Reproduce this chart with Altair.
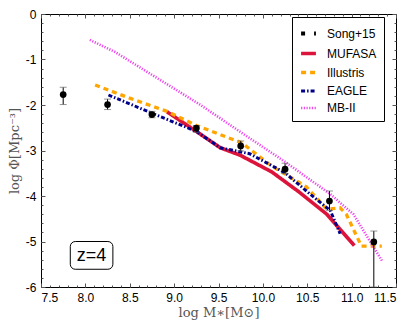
import altair as alt
import pandas as pd

# ---- data ----
song_x = [7.75, 8.25, 8.75, 9.25, 9.75, 10.25, 10.75, 11.25]
song_y = [-1.77, -1.99, -2.21, -2.51, -2.90, -3.41, -4.11, -5.01]
song_lo = [-1.99, -2.10, -2.28, -2.60, -3.01, -3.51, -4.32, -6.0]
song_hi = [-1.61, -1.87, -2.14, -2.45, -2.79, -3.28, -3.89, -4.77]

mufasa_x = [8.92, 9.25, 9.52, 9.74, 10.10, 10.40, 10.72, 11.03]
mufasa_y = [-2.15, -2.58, -2.94, -3.10, -3.47, -3.90, -4.40, -5.09]

illustris_x = [8.11, 8.50, 8.92, 9.25, 9.76, 10.10, 10.49, 10.72, 10.87, 10.94, 11.11, 11.34]
illustris_y = [-1.56, -1.85, -2.14, -2.45, -2.83, -3.34, -3.80, -4.29, -4.26, -4.40, -5.10, -5.10]

eagle_x = [8.26, 8.75, 9.25, 9.52, 9.85, 10.25, 10.49, 10.76, 10.87]
eagle_y = [-1.78, -2.18, -2.58, -2.94, -3.07, -3.49, -3.89, -4.32, -4.83]

mb2_x = [8.05, 8.33, 9.29, 9.76, 10.25, 10.76, 11.02, 11.35]
mb2_y = [-0.57, -0.83, -1.99, -2.61, -3.25, -3.96, -4.40, -5.45]

series_names = ["Song+15", "MUFASA", "Illustris", "EAGLE", "MB-II"]
series_colors = ["black", "#DC143C", "#FFA500", "#00008B", "#EE44EE"]
series_dash = [[4, 9], [1, 0], [5, 4], [4, 2, 1.5, 2], [1.2, 1.5]]
series_width = [4, 2.6, 1.8, 1.8, 1.2]

x_major = [7.5, 8.0, 8.5, 9.0, 9.5, 10.0, 10.5, 11.0, 11.5]
x_minor = [round(7.5 + 0.1 * i, 1) for i in range(41)]
y_major = [-6, -5, -4, -3, -2, -1, 0]
y_minor = [round(-6 + 0.2 * i, 1) for i in range(31)]

# ---- tables ----
rows = []
for name, xs, ys in [("MUFASA", mufasa_x, mufasa_y), ("Illustris", illustris_x, illustris_y),
                     ("EAGLE", eagle_x, eagle_y), ("MB-II", mb2_x, mb2_y)]:
    for i, (a, b) in enumerate(zip(xs, ys)):
        rows.append({"series": name, "x": a, "y": b, "order": i})
lines_df = pd.DataFrame(rows)
song_df = pd.DataFrame({"x": song_x, "y": song_y, "lo": song_lo, "hi": song_hi})
label_df = pd.DataFrame({"x": [7.83], "x2": [8.31], "y": [-5.0], "y2": [-5.61], "xc": [8.07], "yc": [-5.31], "t": ["z=4"]})

XS = alt.Scale(domain=[7.5, 11.5], nice=False, zero=False)
YS = alt.Scale(domain=[-6, 0], nice=False, zero=False)

sans = "Liberation Sans"
serif = "DejaVu Serif"

x_lab_axis = alt.Axis(orient="bottom", values=x_major, ticks=False, domain=False, grid=False,
                      labelFont=sans, labelFontSize=12, labelColor="black", labelPadding=5, format=".1f",
                      title="log M\u2217[M\u2299]", titleFont=serif, titleFontSize=13, titleFontWeight="normal",
                      titleColor="#555", titlePadding=3)
y_lab_axis = alt.Axis(orient="left", values=y_major, ticks=False, domain=False, grid=False,
                      labelFont=sans, labelFontSize=12, labelColor="black", labelPadding=5,
                      labelExpr="'' + datum.value",
                      title="log \u03a6[Mpc\u207b\u00b3]", titleFont=serif, titleFontSize=13,
                      titleFontWeight="normal", titleColor="#555", titlePadding=4)


def tick_axis(orient, vals, size):
    return alt.Axis(orient=orient, values=vals, labels=False, domain=False, grid=False, title=None,
                    ticks=True, tickSize=size, offset=-size, tickColor="#555", tickWidth=1)


lines = alt.Chart(lines_df).mark_line(clip=True).encode(
    x=alt.X("x:Q", scale=XS, axis=x_lab_axis),
    y=alt.Y("y:Q", scale=YS, axis=y_lab_axis),
    color=alt.Color("series:N", scale=alt.Scale(domain=series_names, range=series_colors),
                    legend=alt.Legend(title=None, orient="none", legendX=251, legendY=3,
                                      strokeColor="black", fillColor="white", padding=7,
                                      labelFont=sans, labelFontSize=12, labelColor="black",
                                      symbolType="stroke", symbolSize=220, rowPadding=2,
                                      labelOffset=9)),
    strokeDash=alt.StrokeDash("series:N", scale=alt.Scale(domain=series_names, range=series_dash), legend=None),
    strokeWidth=alt.StrokeWidth("series:N", scale=alt.Scale(domain=series_names, range=series_width), legend=None),
    order="order:Q",
)

err = alt.Chart(song_df).mark_rule(color="black", strokeWidth=1, clip=True).encode(
    x=alt.X("x:Q", scale=XS, axis=None),
    y=alt.Y("lo:Q", scale=YS, axis=None),
    y2="hi:Q",
)
cap_lo = alt.Chart(song_df).mark_tick(color="#666", thickness=1, size=7, orient="horizontal").encode(
    x=alt.X("x:Q", scale=XS, axis=None), y=alt.Y("lo:Q", scale=YS, axis=None))
cap_hi = alt.Chart(song_df).mark_tick(color="#666", thickness=1, size=7, orient="horizontal").encode(
    x=alt.X("x:Q", scale=XS, axis=None), y=alt.Y("hi:Q", scale=YS, axis=None))
pts = alt.Chart(song_df).mark_circle(color="black", size=45, opacity=1).encode(
    x=alt.X("x:Q", scale=XS, axis=None), y=alt.Y("y:Q", scale=YS, axis=None))

box = alt.Chart(label_df).mark_rect(fill="white", stroke="black", strokeWidth=1, cornerRadius=5).encode(
    x=alt.X("x:Q", scale=XS, axis=None), x2="x2:Q",
    y=alt.Y("y:Q", scale=YS, axis=None), y2="y2:Q")
boxtxt = alt.Chart(label_df).mark_text(font=sans, fontSize=18, color="black", baseline="middle").encode(
    x=alt.X("xc:Q", scale=XS, axis=None), y=alt.Y("yc:Q", scale=YS, axis=None), text="t:N")


def ghost(xo, xv, xs, yo, yv, ys):
    return alt.Chart(song_df).mark_point(opacity=0).encode(
        x=alt.X("x:Q", scale=XS, axis=tick_axis(xo, xv, xs)),
        y=alt.Y("y:Q", scale=YS, axis=tick_axis(yo, yv, ys)))


t1 = ghost("bottom", x_major, 4, "left", y_major, 4)
t2 = ghost("top", x_major, 4, "right", y_major, 4)
t3 = ghost("bottom", x_minor, 2, "left", y_minor, 2)
t4 = ghost("top", x_minor, 2, "right", y_minor, 2)

chart = alt.layer(lines, err, cap_lo, cap_hi, pts, box, boxtxt, t1, t2, t3, t4).resolve_axis(
    x="independent", y="independent"
).properties(
    width=355, height=273,
    autosize=alt.AutoSizeParams(type="none"),
    padding={"left": 33, "top": 6, "right": 11, "bottom": 33},
).configure_view(stroke="black", strokeWidth=1)

chart.save("out.html", embed_options={"renderer": "svg", "actions": False})
